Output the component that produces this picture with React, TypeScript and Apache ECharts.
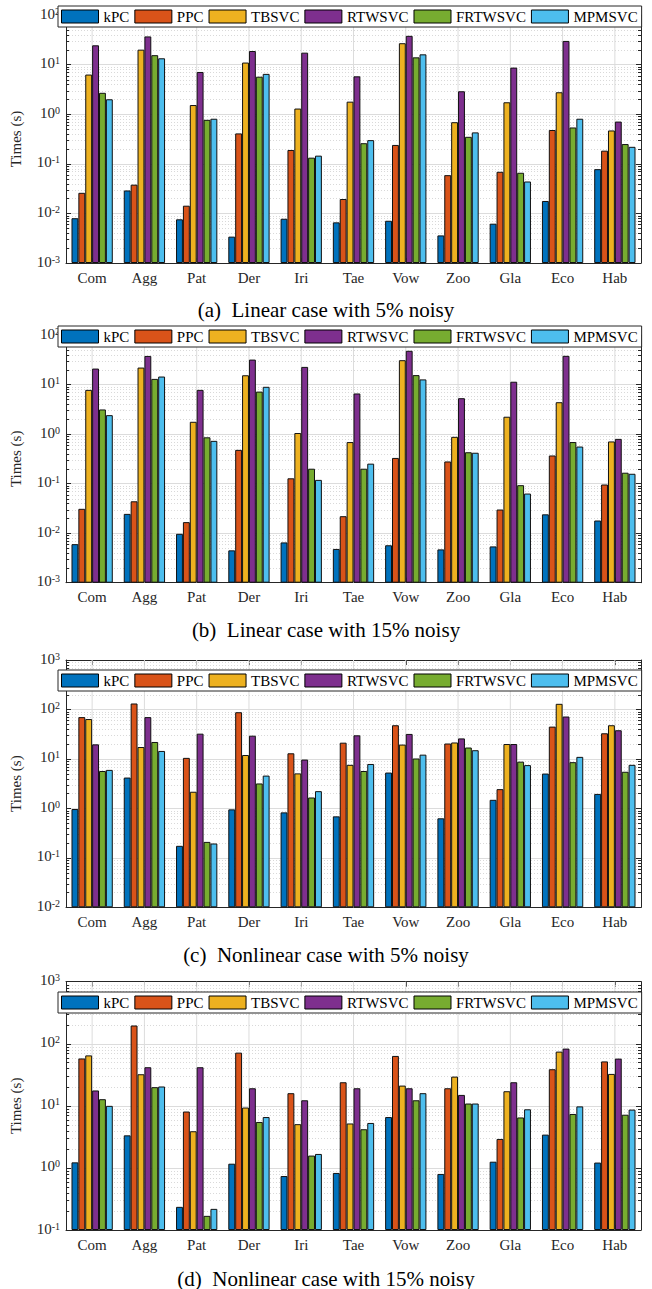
import React, { useEffect, useRef } from 'react';
import * as echarts from 'echarts';

const FONT = 'Liberation Serif';

const categories = ['Com', 'Agg', 'Pat', 'Der', 'Iri', 'Tae', 'Vow', 'Zoo', 'Gla', 'Eco', 'Hab'];
const methods = ['kPC', 'PPC', 'TBSVC', 'RTWSVC', 'FRTWSVC', 'MPMSVC'];
const methodColors = ['#0072BD', '#D95319', '#EDB120', '#7E2F8E', '#77AC30', '#4DBEEE'];

// (a) Linear case with 5% noisy
const aKPC = [0.008, 0.029, 0.0076, 0.0034, 0.0078, 0.0066, 0.0071, 0.0036, 0.0062, 0.0178, 0.078];
const aPPC = [0.026, 0.038, 0.0143, 0.41, 0.19, 0.0195, 0.24, 0.059, 0.069, 0.48, 0.184];
const aTBSVC = [6.3, 20, 1.53, 11, 1.3, 1.79, 27, 0.69, 1.74, 2.77, 0.47];
const aRTWSVC = [24.5, 37, 7.1, 18.8, 17.4, 5.8, 38, 2.9, 8.7, 30, 0.71];
const aFRTWSVC = [2.7, 15.5, 0.77, 5.7, 0.133, 0.26, 14, 0.35, 0.066, 0.54, 0.25];
const aMPMSVC = [2.0, 13.4, 0.81, 6.5, 0.146, 0.3, 16.1, 0.43, 0.044, 0.81, 0.22];

// (b) Linear case with 15% noisy
const bKPC = [0.006, 0.0245, 0.0097, 0.0045, 0.0065, 0.0048, 0.0057, 0.0047, 0.0054, 0.024, 0.018];
const bPPC = [0.031, 0.044, 0.0167, 0.48, 0.128, 0.022, 0.33, 0.28, 0.03, 0.37, 0.096];
const bTBSVC = [7.8, 22, 1.77, 15.4, 1.05, 0.69, 31, 0.88, 2.24, 4.4, 0.71];
const bRTWSVC = [21, 37.8, 7.8, 31.9, 22.7, 6.6, 48, 5.3, 11.4, 38, 0.8];
const bFRTWSVC = [3.14, 13, 0.86, 7.2, 0.2, 0.2, 15.5, 0.43, 0.093, 0.69, 0.166];
const bMPMSVC = [2.41, 14.5, 0.73, 9.0, 0.119, 0.253, 12.7, 0.42, 0.063, 0.56, 0.158];

// (c) Nonlinear case with 5% noisy
const cKPC = [0.97, 4.2, 0.175, 0.955, 0.83, 0.69, 5.3, 0.63, 1.49, 5.06, 1.96];
const cPPC = [70, 132, 10.5, 88, 13, 21.3, 48, 20.5, 2.45, 45, 33];
const cTBSVC = [64, 17.4, 2.17, 12, 5.1, 7.6, 19.5, 21.5, 20, 130, 48];
const cRTWSVC = [19.7, 70, 32.4, 29.5, 9.7, 30, 32, 26, 20, 72, 38];
const cFRTWSVC = [5.7, 22, 0.21, 3.19, 1.66, 5.7, 10.2, 17, 8.8, 8.6, 5.5];
const cMPMSVC = [6.0, 14.5, 0.195, 4.6, 2.23, 7.9, 12.2, 15, 7.5, 11, 7.6];

// (d) Nonlinear case with 15% noisy
const dKPC = [1.23, 3.35, 0.236, 1.17, 0.74, 0.83, 6.6, 0.8, 1.26, 3.44, 1.22];
const dPPC = [58, 197, 8.1, 72, 16, 24, 63.7, 19.2, 2.93, 38.9, 52];
const dTBSVC = [65, 32.3, 3.9, 9.4, 5.07, 5.2, 21.2, 29.6, 17.2, 74.8, 32.7];
const dRTWSVC = [17.7, 41.9, 41.9, 19.2, 12.3, 19.2, 19.2, 15, 24, 83.6, 57.7];
const dFRTWSVC = [12.8, 20, 0.169, 5.5, 1.58, 4.2, 12.3, 10.9, 6.5, 7.4, 7.2];
const dMPMSVC = [10, 20.5, 0.219, 6.6, 1.68, 5.3, 16, 10.9, 8.8, 9.8, 8.7];

const captions = [
  '(a)  Linear case with 5% noisy',
  '(b)  Linear case with 15% noisy',
  '(c)  Nonlinear case with 5% noisy',
  '(d)  Nonlinear case with 15% noisy',
];
const yMins = [1e-3, 1e-3, 1e-2, 1e-1];
const yMaxs = [1e2, 1e2, 1e3, 1e3];

const panelData = [
  [aKPC, aPPC, aTBSVC, aRTWSVC, aFRTWSVC, aMPMSVC],
  [bKPC, bPPC, bTBSVC, bRTWSVC, bFRTWSVC, bMPMSVC],
  [cKPC, cPPC, cTBSVC, cRTWSVC, cFRTWSVC, cMPMSVC],
  [dKPC, dPPC, dTBSVC, dRTWSVC, dFRTWSVC, dMPMSVC],
];

// layout (pixels)
const gridTops = [15, 335, 660, 981.7];
const gridBottoms = [263, 582.7, 907.3, 1230];
const legendTops = [6, 326, 670, 992];
const captionCenters = [311, 631.5, 956.5, 1280];

const AXIS_COLOR = '#262626';

function minorValues(min: number, max: number): number[] {
  const out: number[] = [];
  const e0 = Math.round(Math.log10(min));
  const e1 = Math.round(Math.log10(max));
  for (let e = e0; e < e1; e++) {
    for (let k = 2; k <= 9; k++) out.push(k * Math.pow(10, e));
  }
  return out;
}

function buildOption() {
  const grid: any[] = [];
  const xAxis: any[] = [];
  const yAxis: any[] = [];
  const series: any[] = [];
  const legend: any[] = [];
  const title: any[] = [];

  for (let i = 0; i < 4; i++) {
    const min = yMins[i];
    const max = yMaxs[i];
    grid.push({
      left: 61,
      width: 580,
      top: gridTops[i],
      height: gridBottoms[i] - gridTops[i],
      containLabel: false,
    });
    const xCommon = {
      type: 'category',
      gridIndex: i,
      data: categories,
      axisLine: { show: true, onZero: false, lineStyle: { color: AXIS_COLOR, width: 1 } },
      axisTick: { show: true, inside: true, alignWithLabel: true, length: 5, lineStyle: { color: AXIS_COLOR } },
      splitLine: { show: false },
    };
    xAxis.push({
      ...xCommon,
      position: 'bottom',
      axisLabel: { fontFamily: FONT, fontSize: 15, color: AXIS_COLOR, margin: 7 },
    });
    xAxis.push({
      ...xCommon,
      position: 'top',
      axisLabel: { show: false },
    });
    const yCommon = {
      type: 'log',
      logBase: 10,
      gridIndex: i,
      min,
      max,
      startValue: min,
      axisLine: { show: true, lineStyle: { color: AXIS_COLOR, width: 1 } },
      axisTick: { show: true, inside: true, length: 5, lineStyle: { color: AXIS_COLOR } },
    };
    yAxis.push({
      ...yCommon,
      position: 'left',
      name: 'Times (s)',
      nameLocation: 'middle',
      nameGap: 43,
      nameTextStyle: { fontFamily: FONT, fontSize: 15, color: AXIS_COLOR },
      splitLine: { show: true, lineStyle: { color: '#dcdcdc', width: 1 } },
      axisLabel: {
        showMinLabel: true,
        showMaxLabel: true,
        margin: 6,
        padding: [0, 0, 3, 0],
        formatter: (v: number) => {
          const e = Math.round(Math.log10(v));
          return `{b|10}{s|${e}}`;
        },
        rich: {
          b: { fontFamily: FONT, fontSize: 15, color: AXIS_COLOR, lineHeight: 15, padding: [3, 0, 0, 0], verticalAlign: 'bottom' },
          s: { fontFamily: FONT, fontSize: 10, color: AXIS_COLOR, lineHeight: 10, verticalAlign: 'top' },
        },
      },
    });
    yAxis.push({
      ...yCommon,
      position: 'right',
      splitLine: { show: false },
      axisLabel: { show: false },
    });

    // vertical grid lines at category centres
    series.push({
      type: 'custom',
      xAxisIndex: 2 * i,
      yAxisIndex: 2 * i,
      silent: true,
      z: 1,
      data: categories.map((c) => [c, min]),
      renderItem: (params: any, api: any) => {
        const cs = params.coordSys;
        const x = api.coord([api.value(0), min])[0];
        return {
          type: 'line',
          shape: { x1: x, y1: cs.y, x2: x, y2: cs.y + cs.height },
          style: { stroke: '#dcdcdc', lineWidth: 1 },
        };
      },
    });
    // minor grid lines and minor ticks
    series.push({
      type: 'custom',
      xAxisIndex: 2 * i,
      yAxisIndex: 2 * i,
      silent: true,
      z: 1,
      data: minorValues(min, max).map((v) => [0, v]),
      renderItem: (params: any, api: any) => {
        const cs = params.coordSys;
        const y = Math.round(api.coord([0, api.value(1)])[1]) + 0.5;
        return {
          type: 'group',
          children: [
            {
              type: 'line',
              shape: { x1: cs.x, y1: y, x2: cs.x + cs.width, y2: y },
              style: { stroke: '#cfcfcf', lineWidth: 0.8, lineDash: [1, 2] },
            },
            {
              type: 'line',
              shape: { x1: cs.x, y1: y, x2: cs.x + 3, y2: y },
              style: { stroke: AXIS_COLOR, lineWidth: 1 },
            },
            {
              type: 'line',
              shape: { x1: cs.x + cs.width - 3, y1: y, x2: cs.x + cs.width, y2: y },
              style: { stroke: AXIS_COLOR, lineWidth: 1 },
            },
          ],
        };
      },
    });

    methods.forEach((m, k) => {
      series.push({
        type: 'bar',
        name: m,
        xAxisIndex: 2 * i,
        yAxisIndex: 2 * i,
        data: panelData[i][k],
        barGap: '0%',
        barCategoryGap: '21%',
        z: 3,
        itemStyle: { color: methodColors[k], borderColor: '#111', borderWidth: 1 },
      });
    });

    legend.push({
      data: methods,
      left: 58,
      top: legendTops[i],
      orient: 'horizontal',
      icon: 'rect',
      itemWidth: 37,
      itemHeight: 13,
      itemGap: 5,
      padding: [3, 4, 3, 3],
      backgroundColor: '#ffffff',
      borderColor: AXIS_COLOR,
      borderWidth: 1,
      selectedMode: false,
      z: 10,
      itemStyle: { borderColor: '#000', borderWidth: 1 },
      textStyle: { fontFamily: FONT, fontSize: 15, color: '#000' },
    });

    title.push({
      text: captions[i],
      left: 'center',
      top: captionCenters[i] - 12,
      padding: 0,
      textStyle: { fontFamily: FONT, fontSize: 21, fontWeight: 'normal', color: '#000' },
    });
  }

  return {
    animation: false,
    backgroundColor: '#ffffff',
    textStyle: { fontFamily: FONT },
    title,
    legend,
    grid,
    xAxis,
    yAxis,
    series,
  };
}

export default function App() {
  const ref = useRef<HTMLDivElement>(null);
  useEffect(() => {
    if (!ref.current) return;
    const chart = echarts.init(ref.current, undefined, { renderer: 'svg' });
    chart.setOption(buildOption() as any);
    return () => {
      chart.dispose();
    };
  }, []);
  return (
    <div
      ref={ref}
      style={{ position: 'absolute', left: 0, top: 0, width: 652, height: 1289, background: '#fff' }}
    />
  );
}
